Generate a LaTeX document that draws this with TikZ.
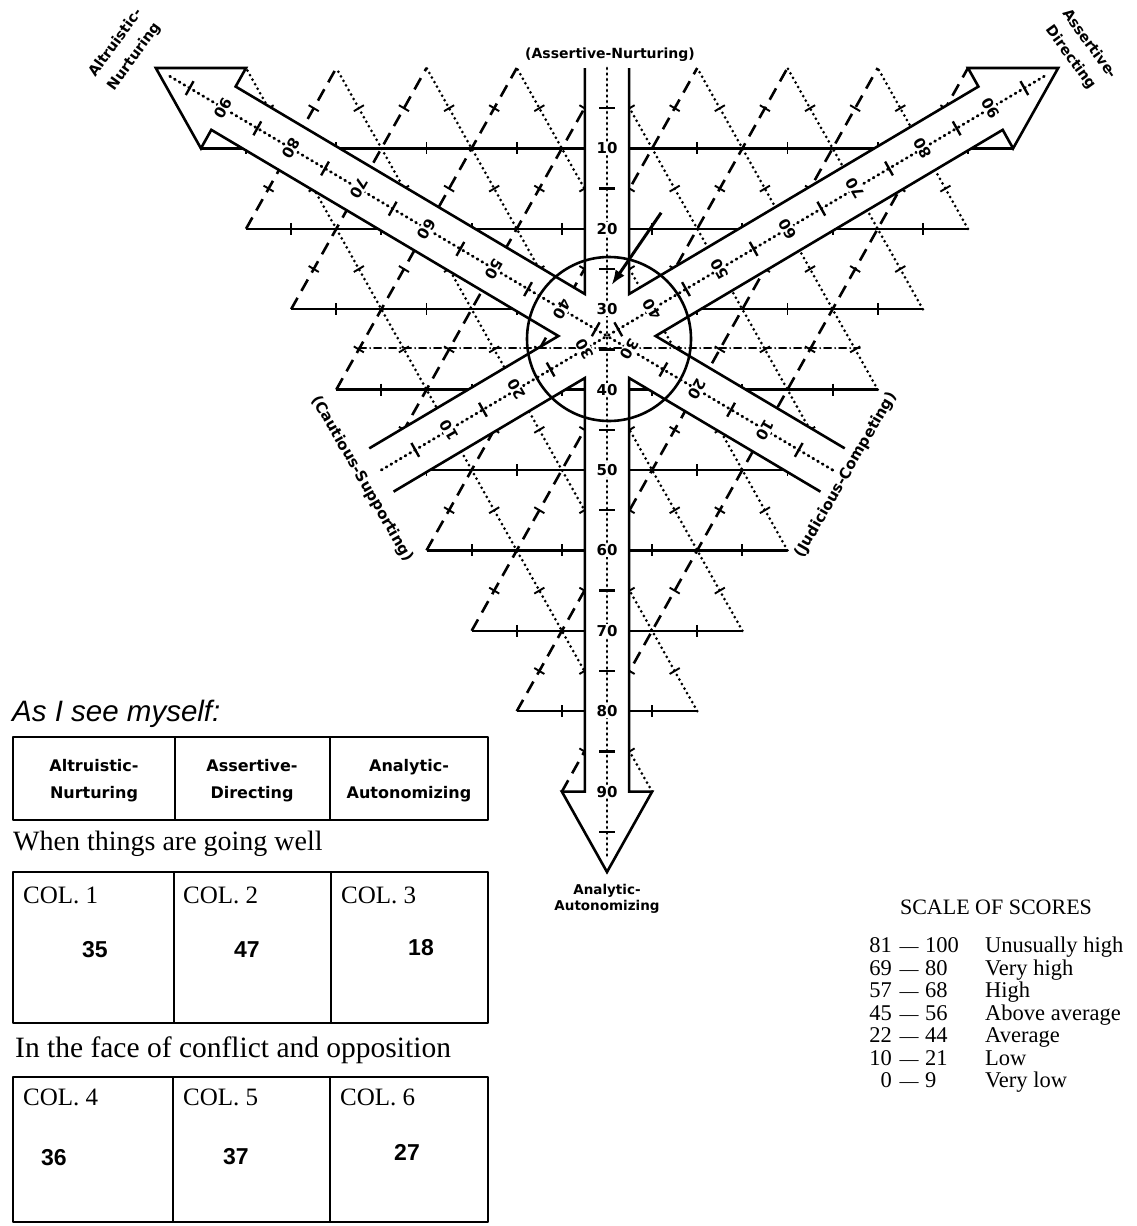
\documentclass[tikz,border=0pt]{standalone}
\usepackage{fontspec}
\setmainfont{Liberation Serif}
\setsansfont{Liberation Sans}
\newfontfamily\dvsans{DejaVu Sans}
\usetikzlibrary{arrows.meta}
\newcommand\LP[4]{%
  \pgfmathsetmacro\lpX{4.642*((#4)-(#3))}%
  \pgfmathsetmacro\lpY{5.36*(#2)-2.68*((#3)+(#4))}%
  \coordinate (#1) at (\lpX,\lpY);}
\tikzset{
  hl/.style={line width=2.5pt},
  dl/.style={line width=2.6pt, dash pattern=on 13pt off 8pt},
  ol/.style={line width=3pt, line cap=round, dash pattern=on 0pt off 5.2pt},
  tk/.style={line width=1.9pt},
  bandline/.style={line width=2.6pt, line join=miter},
  cl/.style={line width=2.8pt, line cap=round, dash pattern=on 1pt off 4.5pt},
  ctk/.style={line width=2.4pt},
  lab/.style={font=\dvsans\bfseries\fontsize{15}{15}\selectfont, fill=white, inner sep=1pt},
  ddl/.style={line width=2.2pt, line cap=round, dash pattern=on 7pt off 4pt on 0pt off 4pt},
  tb/.style={line width=2.6pt},
  axl/.style={font=\dvsans\bfseries\fontsize{14.4}{23}\selectfont, align=center, inner sep=0pt},
  hdr/.style={font=\dvsans\bfseries\fontsize{16}{27}\selectfont, align=center, inner sep=0pt},
  coltxt/.style={font=\rmfamily\fontsize{25}{27}\selectfont, anchor=base west, inner sep=0pt},
  num/.style={font=\sffamily\bfseries\fontsize{23}{25}\selectfont, inner sep=0pt},
  sc/.style={font=\rmfamily\fontsize{22.5}{24}\selectfont, inner sep=0pt}
}
\begin{document}
\begin{tikzpicture}[x=1pt, y=-1pt, line join=round]
\useasboundingbox (0,0) rectangle (1136,1226);

\begin{scope}[shift={(607,336)}, xscale=0.972]
% ---------------- triangular grid ----------------
\foreach \A in {10,20,...,80}{
  \LP{g1}{\A}{100-\A}{0}
  \LP{g2}{\A}{0}{100-\A}
  \draw[hl] (g1) -- (g2);
  \LP{g1}{100-\A}{\A}{0}
  \LP{g2}{0}{\A}{100-\A}
  \draw[dl] (g1) -- (g2);
  \LP{g1}{100-\A}{0}{\A}
  \LP{g2}{0}{100-\A}{\A}
  \draw[ol] (g1) -- (g2);
  \pgfmathtruncatemacro\gridn{(100-\A)/10-1}
  \foreach \jj in {0,...,\gridn}{
    \LP{m}{\A}{95-\A-10*\jj}{5+10*\jj}
    \draw[tk] (m) ++(0,-6) -- ++(0,12);
    \LP{m}{5+10*\jj}{\A}{95-\A-10*\jj}
    \draw[tk] (m) ++(-5.2,-3) -- ++(10.4,6);
    \LP{m}{5+10*\jj}{95-\A-10*\jj}{\A}
    \draw[tk] (m) ++(-5.2,3) -- ++(10.4,-6);
  }
}
% ---------------- arrow bands ----------------
\coordinate (vlT) at (-22.7,-268);
\coordinate (vrT) at (22.7,-268);
\coordinate (vlB) at (-22.7,455.6);
\coordinate (vrB) at (22.7,455.6);
\LP{hdL}{90}{10}{0}
\LP{hdR}{90}{0}{10}
\LP{hdT}{100}{0}{0}
\coordinate (bUT) at (244.6,112.35);
\coordinate (bLT) at (219.6,155.65);
\coordinate (bUH) at (-382.1,-249.45);
\coordinate (bLH) at (-407.1,-206.15);
\LP{bHL}{10}{90}{0}
\LP{bTip}{0}{100}{0}
\LP{bHU}{0}{90}{10}
\coordinate (cUT) at (-244.6,112.35);
\coordinate (cLT) at (-219.6,155.65);
\coordinate (cUH) at (382.1,-249.45);
\coordinate (cLH) at (407.1,-206.15);
\LP{cHL}{10}{0}{90}
\LP{cTip}{0}{0}{100}
\LP{cHU}{0}{10}{90}
\coordinate (k1) at (intersection of vrT--vrB and cUT--cUH);
\coordinate (k2) at (intersection of cLT--cLH and bUT--bUH);
\coordinate (k3) at (intersection of bLT--bLH and vrT--vrB);
\coordinate (k4) at (intersection of vlT--vlB and cLT--cLH);
\coordinate (k5) at (intersection of cUT--cUH and bLT--bLH);
\coordinate (k6) at (intersection of bUT--bUH and vlT--vlB);
\fill[white] (k6) -- (vlT) -- (vrT) -- (k1) -- (cUH) -- (cHU) -- (cTip) -- (cHL) -- (cLH)
  -- (k2) -- (bUT) -- (bLT) -- (k3) -- (vrB) -- (hdR) -- (hdT) -- (hdL) -- (vlB)
  -- (k4) -- (cLT) -- (cUT) -- (k5) -- (bLH) -- (bHL) -- (bTip) -- (bHU) -- (bUH) -- cycle;
% dash-dot horizontal line
\coordinate (ddA) at (-255,12);
\coordinate (ddB) at (260,12);
\draw[ddl] (ddA) -- (ddB);
% band outlines
\draw[bandline] (vrT) -- (k1) -- (cUH) -- (cHU) -- (cTip) -- (cHL) -- (cLH) -- (k2) -- (bUT);
\draw[bandline] (bLT) -- (k3) -- (vrB) -- (hdR) -- (hdT) -- (hdL) -- (vlB) -- (k4) -- (cLT);
\draw[bandline] (cUT) -- (k5) -- (bLH) -- (bHL) -- (bTip) -- (bHU) -- (bUH) -- (k6) -- (vlT);
% centre lines of the three arrows
\coordinate (vA) at (0,-268);
\coordinate (vB) at (0,520);
\coordinate (bA) at (232.1,134);
\coordinate (bB) at (-450.3,-260);
\coordinate (cA) at (-232.1,134);
\coordinate (cB) at (450.3,-260);
\draw[cl] (vA) -- (vB);
\draw[cl] (bA) -- (bB);
\draw[cl] (cA) -- (cB);
\foreach \vv in {5,15,...,95}{
  \pgfmathsetmacro\ddv{8.04*(\vv-33.333)}
  \draw[ctk] (-8,\ddv) -- (8,\ddv);
  \draw[ctk] ({-0.866*\ddv-4},{-0.5*\ddv+6.93}) -- ({-0.866*\ddv+4},{-0.5*\ddv-6.93});
  \draw[ctk] ({0.866*\ddv+4},{-0.5*\ddv+6.93}) -- ({0.866*\ddv-4},{-0.5*\ddv-6.93});
}
\foreach \vv in {10,20,...,90}{
  \pgfmathsetmacro\ddv{8.04*(\vv-33.333)}
  \node[lab] (va\vv) at (0,\ddv) {\vv};
  \node[lab, rotate=-120] (vb\vv) at ({-0.866*\ddv},{-0.5*\ddv}) {\vv};
  \node[lab, rotate=120] (vc\vv) at ({0.866*\ddv},{-0.5*\ddv}) {\vv};
}
\LP{well}{18}{35}{47}
\LP{conflict}{27}{36}{37}
\end{scope}

% hub circle
\draw[bandline] (609,339) circle[radius=82];
% plotted change arrow
\draw[line width=3pt, -{Latex[length=15pt,width=11pt]}] (well) -- (conflict);

% axis / region labels
\node (tAN) [font=\dvsans\bfseries\fontsize{14}{16}\selectfont, inner sep=0pt] at (610,55) {(Assertive-Nurturing)};
\node (tAltN) [axl, rotate=54] at (125,50) {Altruistic-\\Nurturing};
\node (tAsD) [axl, rotate=-54] at (1080,51) {Assertive-\\Directing};
\node (tCS) [font=\dvsans\bfseries\fontsize{15}{17}\selectfont, inner sep=0pt, rotate=-60] at (362,479) {(Cautious-Supporting)};
\node (tJC) [font=\dvsans\bfseries\fontsize{15}{17}\selectfont, inner sep=0pt, rotate=60] at (846,475) {(Judicious-Competing)};
\node (tAA) [font=\dvsans\bfseries\fontsize{13.5}{16}\selectfont, align=center, inner sep=0pt] at (607,899) {Analytic-\\Autonomizing};

% ---------------- tables ----------------
\node (tSee) [anchor=base west, font=\sffamily\itshape\fontsize{29.5}{31}\selectfont, inner sep=0pt] at (12,721) {As I see myself:};
\draw[tb] (13,737) rectangle (488,820);
\draw[tb] (175,737) -- (175,820);
\draw[tb] (330,737) -- (330,820);
\node (h1) [hdr] at (94,781) {Altruistic-\\Nurturing};
\node (h2) [hdr] at (252,781) {Assertive-\\Directing};
\node (h3) [hdr] at (409,781) {Analytic-\\Autonomizing};

\node (tWell) [anchor=base west, font=\rmfamily\fontsize{28}{30}\selectfont, inner sep=0pt] at (13,850) {When things are going well};
\draw[tb] (13,872) rectangle (488,1023);
\draw[tb] (174,872) -- (174,1023);
\draw[tb] (331,872) -- (331,1023);
\node (c1) [coltxt] at (23,903) {COL. 1};
\node (c2) [coltxt] at (183,903) {COL. 2};
\node (c3) [coltxt] at (341,903) {COL. 3};
\node (n1) [num] at (95,950) {35};
\node (n2) [num] at (247,950) {47};
\node (n3) [num] at (421,948) {18};

\node (tConf) [anchor=base west, font=\rmfamily\fontsize{29.5}{31}\selectfont, inner sep=0pt] at (15,1057) {In the face of conflict and opposition};
\draw[tb] (13,1077) rectangle (488,1222);
\draw[tb] (173,1077) -- (173,1222);
\draw[tb] (330,1077) -- (330,1222);
\node (c4) [coltxt] at (23,1105) {COL. 4};
\node (c5) [coltxt] at (183,1105) {COL. 5};
\node (c6) [coltxt] at (340,1105) {COL. 6};
\node (n4) [num] at (54,1158) {36};
\node (n5) [num] at (236,1157) {37};
\node (n6) [num] at (407,1152) {27};

% ---------------- scale of scores ----------------
\node (sTitle) [font=\rmfamily\fontsize{22}{24}\selectfont, inner sep=0pt] at (996,907) {SCALE OF SCORES};
\foreach \sLo/\sHi/\sDesc [count=\ii] in {81/100/Unusually high, 69/80/Very high, 57/68/High, 45/56/Above average, 22/44/Average, 10/21/Low, 0/9/Very low}{
  \pgfmathsetmacro\yy{945+22.5*(\ii-1)+7.5}
  \node[sc, anchor=base east] (sl\ii) at (892,\yy) {\sLo};
  \node[font=\rmfamily\fontsize{19}{20}\selectfont, inner sep=0pt, anchor=base] (sd\ii) at (909,\yy) {—};
  \node[sc, anchor=base west] (sh\ii) at (925,\yy) {\sHi};
  \node[sc, anchor=base west] (sx\ii) at (985,\yy) {\sDesc};
}
\end{tikzpicture}
\end{document}
